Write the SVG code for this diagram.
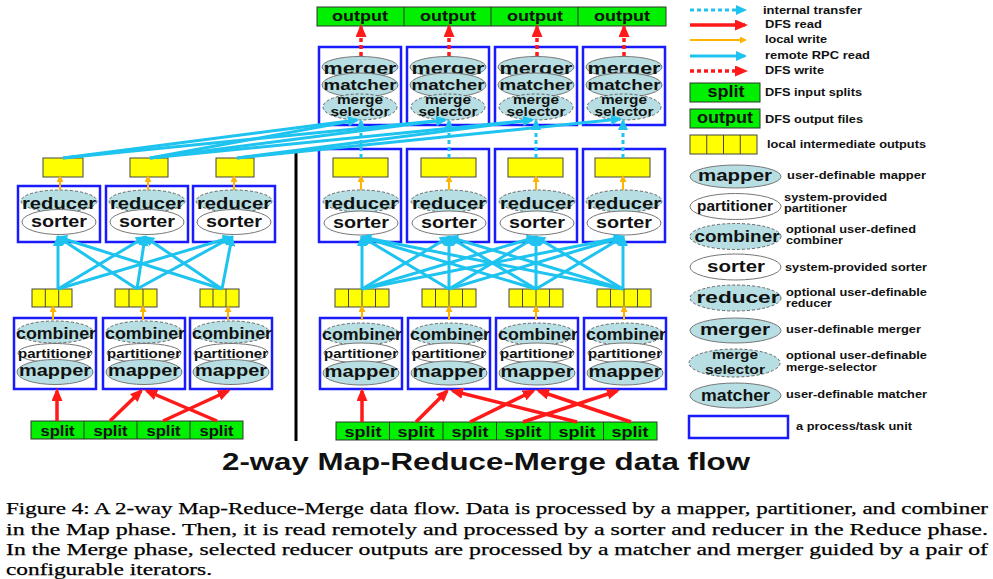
<svg xmlns="http://www.w3.org/2000/svg" width="993" height="579" viewBox="0 0 993 579">
<style>
.box{fill:#fff;stroke:#1a1aff;stroke-width:2.5}
.ell{fill:#b7dfe3;stroke:#777;stroke-width:1}
.dsh{fill:#b7dfe3;stroke:#666;stroke-width:1;stroke-dasharray:3 2}
.wht{fill:#fff;stroke:#777;stroke-width:1}
.grn{fill:#00f000;stroke:#333;stroke-width:1}
.yel{fill:#ffff00;stroke:#444;stroke-width:1}
.cl{stroke:#444;stroke-width:1}
.gl{stroke:#333;stroke-width:1}
text{font-family:"Liberation Sans",Arial,sans-serif;font-weight:bold;fill:#111}
.t16{font-size:16px;text-anchor:middle}
.t13{font-size:13px;text-anchor:middle}
.t15{font-size:15px;text-anchor:middle}
.mt{font-size:15px;text-anchor:middle}
.ms{font-size:12px;text-anchor:middle}
.lg{font-size:11px}
.rpc{stroke:#1ec3f0;stroke-width:3;fill:none}
.itr{stroke:#1ec3f0;stroke-width:3;stroke-dasharray:4 3;fill:none}
.red{stroke:#ff1a1a;stroke-width:3.5;fill:none}
.dfw{stroke:#ff1a1a;stroke-width:3.5;stroke-dasharray:4 3;fill:none}
.org{stroke:#ffb400;stroke-width:2;fill:none}
.title{font-weight:bold;font-size:24px;text-anchor:middle;fill:#111}
.cap{font-family:"Liberation Serif","Times New Roman",serif;font-weight:normal;font-size:17px;fill:#000;stroke:#000;stroke-width:0.25}
</style>
<defs>
<marker id="ac" markerUnits="userSpaceOnUse" markerWidth="12" markerHeight="10" refX="9" refY="5" orient="auto"><path d="M0,0 L11,5 L0,10 z" fill="#1ec3f0"/></marker>
<marker id="ar" markerUnits="userSpaceOnUse" markerWidth="13" markerHeight="11" refX="10" refY="5.5" orient="auto"><path d="M0,0 L13,5.5 L0,11 z" fill="#ff1a1a"/></marker>
<marker id="ao" markerUnits="userSpaceOnUse" markerWidth="8" markerHeight="8" refX="5" refY="3.5" orient="auto"><path d="M0,0 L7,3.5 L0,7 z" fill="#ffb400"/></marker>
</defs>

<g id="outputs">
<rect class="grn" x="317" y="7" width="349" height="19"/>
<line class="gl" x1="404" y1="7" x2="404" y2="26"/>
<line class="gl" x1="491" y1="7" x2="491" y2="26"/>
<line class="gl" x1="578" y1="7" x2="578" y2="26"/>
<text class="t15" x="360" y="21" textLength="56" lengthAdjust="spacingAndGlyphs">output</text>
<text class="t15" x="448" y="21" textLength="56" lengthAdjust="spacingAndGlyphs">output</text>
<text class="t15" x="535" y="21" textLength="56" lengthAdjust="spacingAndGlyphs">output</text>
<text class="t15" x="622" y="21" textLength="56" lengthAdjust="spacingAndGlyphs">output</text>
</g>

<g id="merge1">
<rect class="box" x="319" y="47" width="82" height="78"/>
<ellipse class="ell" cx="360" cy="67" rx="38" ry="10.5"/>
<text class="t16" x="360" y="74" textLength="73" lengthAdjust="spacingAndGlyphs">merger</text>
<ellipse class="ell" cx="360" cy="85" rx="38" ry="12"/>
<text class="mt" x="360" y="90" textLength="73" lengthAdjust="spacingAndGlyphs">matcher</text>
<ellipse class="dsh" cx="360" cy="107" rx="37" ry="13"/>
<text class="ms" x="360" y="103.5" textLength="46" lengthAdjust="spacingAndGlyphs">merge</text>
<text class="ms" x="360" y="116" textLength="59" lengthAdjust="spacingAndGlyphs">selector</text>
</g>
<g id="merge2">
<rect class="box" x="407" y="47" width="82" height="78"/>
<ellipse class="ell" cx="448" cy="67" rx="38" ry="10.5"/>
<text class="t16" x="448" y="74" textLength="73" lengthAdjust="spacingAndGlyphs">merger</text>
<ellipse class="ell" cx="448" cy="85" rx="38" ry="12"/>
<text class="mt" x="448" y="90" textLength="73" lengthAdjust="spacingAndGlyphs">matcher</text>
<ellipse class="dsh" cx="448" cy="107" rx="37" ry="13"/>
<text class="ms" x="448" y="103.5" textLength="46" lengthAdjust="spacingAndGlyphs">merge</text>
<text class="ms" x="448" y="116" textLength="59" lengthAdjust="spacingAndGlyphs">selector</text>
</g>
<g id="merge3">
<rect class="box" x="495" y="47" width="82" height="78"/>
<ellipse class="ell" cx="536" cy="67" rx="38" ry="10.5"/>
<text class="t16" x="536" y="74" textLength="73" lengthAdjust="spacingAndGlyphs">merger</text>
<ellipse class="ell" cx="536" cy="85" rx="38" ry="12"/>
<text class="mt" x="536" y="90" textLength="73" lengthAdjust="spacingAndGlyphs">matcher</text>
<ellipse class="dsh" cx="536" cy="107" rx="37" ry="13"/>
<text class="ms" x="536" y="103.5" textLength="46" lengthAdjust="spacingAndGlyphs">merge</text>
<text class="ms" x="536" y="116" textLength="59" lengthAdjust="spacingAndGlyphs">selector</text>
</g>
<g id="merge4">
<rect class="box" x="583" y="47" width="82" height="78"/>
<ellipse class="ell" cx="624" cy="67" rx="38" ry="10.5"/>
<text class="t16" x="624" y="74" textLength="73" lengthAdjust="spacingAndGlyphs">merger</text>
<ellipse class="ell" cx="624" cy="85" rx="38" ry="12"/>
<text class="mt" x="624" y="90" textLength="73" lengthAdjust="spacingAndGlyphs">matcher</text>
<ellipse class="dsh" cx="624" cy="107" rx="37" ry="13"/>
<text class="ms" x="624" y="103.5" textLength="46" lengthAdjust="spacingAndGlyphs">merge</text>
<text class="ms" x="624" y="116" textLength="59" lengthAdjust="spacingAndGlyphs">selector</text>
</g>

<g id="reduceR1">
<rect class="box" x="319" y="149" width="82" height="93"/>
<rect class="yel" x="333" y="158" width="55" height="19"/>
<ellipse class="dsh" cx="361" cy="201" rx="38" ry="11"/>
<text class="t16" x="361" y="209" textLength="74" lengthAdjust="spacingAndGlyphs">reducer</text>
<ellipse class="wht" cx="361" cy="223" rx="37" ry="12"/>
<text class="t16" x="361" y="228" textLength="56" lengthAdjust="spacingAndGlyphs">sorter</text>
</g>
<g id="reduceR2">
<rect class="box" x="407" y="149" width="82" height="93"/>
<rect class="yel" x="421" y="158" width="55" height="19"/>
<ellipse class="dsh" cx="449" cy="201" rx="38" ry="11"/>
<text class="t16" x="449" y="209" textLength="74" lengthAdjust="spacingAndGlyphs">reducer</text>
<ellipse class="wht" cx="449" cy="223" rx="37" ry="12"/>
<text class="t16" x="449" y="228" textLength="56" lengthAdjust="spacingAndGlyphs">sorter</text>
</g>
<g id="reduceR3">
<rect class="box" x="495" y="149" width="82" height="93"/>
<rect class="yel" x="508" y="158" width="55" height="19"/>
<ellipse class="dsh" cx="537" cy="201" rx="38" ry="11"/>
<text class="t16" x="537" y="209" textLength="74" lengthAdjust="spacingAndGlyphs">reducer</text>
<ellipse class="wht" cx="537" cy="223" rx="37" ry="12"/>
<text class="t16" x="537" y="228" textLength="56" lengthAdjust="spacingAndGlyphs">sorter</text>
</g>
<g id="reduceR4">
<rect class="box" x="583" y="149" width="82" height="93"/>
<rect class="yel" x="595" y="158" width="55" height="19"/>
<ellipse class="dsh" cx="624" cy="201" rx="38" ry="11"/>
<text class="t16" x="624" y="209" textLength="74" lengthAdjust="spacingAndGlyphs">reducer</text>
<ellipse class="wht" cx="624" cy="223" rx="37" ry="12"/>
<text class="t16" x="624" y="228" textLength="56" lengthAdjust="spacingAndGlyphs">sorter</text>
</g>

<g id="outL1"><rect class="yel" x="43" y="158" width="40" height="19"/></g>
<g id="outL2"><rect class="yel" x="130" y="158" width="38" height="19"/></g>
<g id="outL3"><rect class="yel" x="216" y="158" width="38" height="19"/></g>
<g id="reduceL1">
<rect class="box" x="18" y="186" width="82" height="56"/>
<ellipse class="dsh" cx="59" cy="201" rx="38" ry="11"/>
<text class="t16" x="59" y="209" textLength="74" lengthAdjust="spacingAndGlyphs">reducer</text>
<ellipse class="wht" cx="59" cy="222" rx="37" ry="12.5"/>
<text class="t16" x="59" y="227" textLength="56" lengthAdjust="spacingAndGlyphs">sorter</text>
</g>
<g id="reduceL2">
<rect class="box" x="106" y="186" width="82" height="56"/>
<ellipse class="dsh" cx="147" cy="201" rx="38" ry="11"/>
<text class="t16" x="147" y="209" textLength="74" lengthAdjust="spacingAndGlyphs">reducer</text>
<ellipse class="wht" cx="147" cy="222" rx="37" ry="12.5"/>
<text class="t16" x="147" y="227" textLength="56" lengthAdjust="spacingAndGlyphs">sorter</text>
</g>
<g id="reduceL3">
<rect class="box" x="193" y="186" width="82" height="56"/>
<ellipse class="dsh" cx="234" cy="201" rx="38" ry="11"/>
<text class="t16" x="234" y="209" textLength="74" lengthAdjust="spacingAndGlyphs">reducer</text>
<ellipse class="wht" cx="234" cy="222" rx="37" ry="12.5"/>
<text class="t16" x="234" y="227" textLength="56" lengthAdjust="spacingAndGlyphs">sorter</text>
</g>

<g id="imL1"><rect class="yel" x="32" y="289" width="40" height="18"/><line class="cl" x1="45.3" y1="289" x2="45.3" y2="307"/><line class="cl" x1="58.7" y1="289" x2="58.7" y2="307"/></g>
<g id="imL2"><rect class="yel" x="115" y="289" width="42" height="18"/><line class="cl" x1="129" y1="289" x2="129" y2="307"/><line class="cl" x1="143" y1="289" x2="143" y2="307"/></g>
<g id="imL3"><rect class="yel" x="200" y="289" width="39" height="18"/><line class="cl" x1="213" y1="289" x2="213" y2="307"/><line class="cl" x1="226" y1="289" x2="226" y2="307"/></g>
<g id="imR1"><rect class="yel" x="335" y="289" width="54" height="18"/><line class="cl" x1="348.5" y1="289" x2="348.5" y2="307"/><line class="cl" x1="362" y1="289" x2="362" y2="307"/><line class="cl" x1="375.5" y1="289" x2="375.5" y2="307"/></g>
<g id="imR2"><rect class="yel" x="422" y="289" width="54" height="18"/><line class="cl" x1="435.5" y1="289" x2="435.5" y2="307"/><line class="cl" x1="449" y1="289" x2="449" y2="307"/><line class="cl" x1="462.5" y1="289" x2="462.5" y2="307"/></g>
<g id="imR3"><rect class="yel" x="509" y="289" width="54" height="18"/><line class="cl" x1="522.5" y1="289" x2="522.5" y2="307"/><line class="cl" x1="536" y1="289" x2="536" y2="307"/><line class="cl" x1="549.5" y1="289" x2="549.5" y2="307"/></g>
<g id="imR4"><rect class="yel" x="597" y="289" width="54" height="18"/><line class="cl" x1="610.5" y1="289" x2="610.5" y2="307"/><line class="cl" x1="624" y1="289" x2="624" y2="307"/><line class="cl" x1="637.5" y1="289" x2="637.5" y2="307"/></g>

<g id="mapL1">
<rect class="box" x="14" y="318" width="82" height="71"/>
<ellipse class="dsh" cx="55" cy="332" rx="38" ry="11"/>
<text class="t16" x="56" y="339" textLength="80" lengthAdjust="spacingAndGlyphs">combiner</text>
<ellipse class="wht" cx="55" cy="353" rx="37" ry="9.5"/>
<text class="t13" x="55" y="358" textLength="74" lengthAdjust="spacingAndGlyphs">partitioner</text>
<ellipse class="ell" cx="55" cy="372" rx="38" ry="12.5"/>
<text class="t16" x="55" y="376" textLength="72" lengthAdjust="spacingAndGlyphs">mapper</text>
</g>
<g id="mapL2">
<rect class="box" x="103" y="318" width="82" height="71"/>
<ellipse class="dsh" cx="144" cy="332" rx="38" ry="11"/>
<text class="t16" x="145" y="339" textLength="80" lengthAdjust="spacingAndGlyphs">combiner</text>
<ellipse class="wht" cx="144" cy="353" rx="37" ry="9.5"/>
<text class="t13" x="144" y="358" textLength="74" lengthAdjust="spacingAndGlyphs">partitioner</text>
<ellipse class="ell" cx="144" cy="372" rx="38" ry="12.5"/>
<text class="t16" x="144" y="376" textLength="72" lengthAdjust="spacingAndGlyphs">mapper</text>
</g>
<g id="mapL3">
<rect class="box" x="190" y="318" width="82" height="71"/>
<ellipse class="dsh" cx="231" cy="332" rx="38" ry="11"/>
<text class="t16" x="232" y="339" textLength="80" lengthAdjust="spacingAndGlyphs">combiner</text>
<ellipse class="wht" cx="231" cy="353" rx="37" ry="9.5"/>
<text class="t13" x="231" y="358" textLength="74" lengthAdjust="spacingAndGlyphs">partitioner</text>
<ellipse class="ell" cx="231" cy="372" rx="38" ry="12.5"/>
<text class="t16" x="231" y="376" textLength="72" lengthAdjust="spacingAndGlyphs">mapper</text>
</g>

<g id="mapR1">
<rect class="box" x="320" y="318" width="82" height="71"/>
<ellipse class="dsh" cx="361" cy="334" rx="38" ry="11"/>
<text class="t16" x="362" y="340" textLength="80" lengthAdjust="spacingAndGlyphs">combiner</text>
<ellipse class="wht" cx="361" cy="353" rx="37" ry="10"/>
<text class="t13" x="361" y="358" textLength="74" lengthAdjust="spacingAndGlyphs">partitioner</text>
<ellipse class="ell" cx="361" cy="373" rx="38" ry="12"/>
<text class="t16" x="361" y="377" textLength="73" lengthAdjust="spacingAndGlyphs">mapper</text>
</g>
<g id="mapR2">
<rect class="box" x="408" y="318" width="82" height="71"/>
<ellipse class="dsh" cx="449" cy="334" rx="38" ry="11"/>
<text class="t16" x="450" y="340" textLength="80" lengthAdjust="spacingAndGlyphs">combiner</text>
<ellipse class="wht" cx="449" cy="353" rx="37" ry="10"/>
<text class="t13" x="449" y="358" textLength="74" lengthAdjust="spacingAndGlyphs">partitioner</text>
<ellipse class="ell" cx="449" cy="373" rx="38" ry="12"/>
<text class="t16" x="449" y="377" textLength="73" lengthAdjust="spacingAndGlyphs">mapper</text>
</g>
<g id="mapR3">
<rect class="box" x="496" y="318" width="82" height="71"/>
<ellipse class="dsh" cx="537" cy="334" rx="38" ry="11"/>
<text class="t16" x="538" y="340" textLength="80" lengthAdjust="spacingAndGlyphs">combiner</text>
<ellipse class="wht" cx="537" cy="353" rx="37" ry="10"/>
<text class="t13" x="537" y="358" textLength="74" lengthAdjust="spacingAndGlyphs">partitioner</text>
<ellipse class="ell" cx="537" cy="373" rx="38" ry="12"/>
<text class="t16" x="537" y="377" textLength="73" lengthAdjust="spacingAndGlyphs">mapper</text>
</g>
<g id="mapR4">
<rect class="box" x="584" y="318" width="82" height="71"/>
<ellipse class="dsh" cx="625" cy="334" rx="38" ry="11"/>
<text class="t16" x="626" y="340" textLength="80" lengthAdjust="spacingAndGlyphs">combiner</text>
<ellipse class="wht" cx="625" cy="353" rx="37" ry="10"/>
<text class="t13" x="625" y="358" textLength="74" lengthAdjust="spacingAndGlyphs">partitioner</text>
<ellipse class="ell" cx="625" cy="373" rx="38" ry="12"/>
<text class="t16" x="625" y="377" textLength="73" lengthAdjust="spacingAndGlyphs">mapper</text>
</g>

<g id="splitsL">
<rect class="grn" x="31" y="421" width="212" height="18"/>
<line class="gl" x1="84" y1="421" x2="84" y2="439"/>
<line class="gl" x1="137" y1="421" x2="137" y2="439"/>
<line class="gl" x1="190" y1="421" x2="190" y2="439"/>
<text class="t15" x="57.5" y="436" textLength="34" lengthAdjust="spacingAndGlyphs">split</text>
<text class="t15" x="110.5" y="436" textLength="34" lengthAdjust="spacingAndGlyphs">split</text>
<text class="t15" x="163.5" y="436" textLength="34" lengthAdjust="spacingAndGlyphs">split</text>
<text class="t15" x="216.5" y="436" textLength="34" lengthAdjust="spacingAndGlyphs">split</text>
</g>
<g id="splitsR">
<rect class="grn" x="336" y="422" width="321" height="18"/>
<line class="gl" x1="389.5" y1="422" x2="389.5" y2="440"/>
<line class="gl" x1="443" y1="422" x2="443" y2="440"/>
<line class="gl" x1="496.5" y1="422" x2="496.5" y2="440"/>
<line class="gl" x1="550" y1="422" x2="550" y2="440"/>
<line class="gl" x1="603.5" y1="422" x2="603.5" y2="440"/>
<text class="t15" x="363" y="437" textLength="37" lengthAdjust="spacingAndGlyphs">split</text>
<text class="t15" x="416" y="437" textLength="37" lengthAdjust="spacingAndGlyphs">split</text>
<text class="t15" x="470" y="437" textLength="37" lengthAdjust="spacingAndGlyphs">split</text>
<text class="t15" x="523" y="437" textLength="37" lengthAdjust="spacingAndGlyphs">split</text>
<text class="t15" x="577" y="437" textLength="37" lengthAdjust="spacingAndGlyphs">split</text>
<text class="t15" x="630" y="437" textLength="37" lengthAdjust="spacingAndGlyphs">split</text>
</g>

<line id="divider" x1="296" y1="153" x2="296" y2="441" stroke="#000" stroke-width="3"/>

<g id="connectors">
<line class="dfw" x1="361" y1="56" x2="361" y2="27" marker-end="url(#ar)"/>
<line class="dfw" x1="449" y1="56" x2="449" y2="27" marker-end="url(#ar)"/>
<line class="dfw" x1="537" y1="56" x2="537" y2="27" marker-end="url(#ar)"/>
<line class="dfw" x1="624" y1="56" x2="624" y2="27" marker-end="url(#ar)"/>
<line class="itr" x1="361" y1="158" x2="361" y2="121" marker-end="url(#ac)"/>
<line class="itr" x1="449" y1="158" x2="449" y2="121" marker-end="url(#ac)"/>
<line class="itr" x1="536" y1="158" x2="536" y2="121" marker-end="url(#ac)"/>
<line class="itr" x1="623" y1="158" x2="623" y2="121" marker-end="url(#ac)"/>
<line class="rpc" x1="63" y1="158" x2="357" y2="120" marker-end="url(#ac)"/>
<line class="rpc" x1="150" y1="158" x2="357" y2="120" marker-end="url(#ac)"/>
<line class="rpc" x1="63" y1="158" x2="445" y2="120" marker-end="url(#ac)"/>
<line class="rpc" x1="150" y1="158" x2="445" y2="120" marker-end="url(#ac)"/>
<line class="rpc" x1="150" y1="158" x2="532" y2="120" marker-end="url(#ac)"/>
<line class="rpc" x1="237" y1="158" x2="532" y2="120" marker-end="url(#ac)"/>
<line class="rpc" x1="237" y1="158" x2="620" y2="119" marker-end="url(#ac)"/>
<line class="org" x1="60" y1="190" x2="60" y2="177" marker-end="url(#ao)"/>
<line class="org" x1="148" y1="190" x2="148" y2="177" marker-end="url(#ao)"/>
<line class="org" x1="234" y1="190" x2="234" y2="177" marker-end="url(#ao)"/>
<line class="org" x1="361" y1="190" x2="361" y2="177" marker-end="url(#ao)"/>
<line class="org" x1="449" y1="190" x2="449" y2="177" marker-end="url(#ao)"/>
<line class="org" x1="536" y1="190" x2="536" y2="177" marker-end="url(#ao)"/>
<line class="org" x1="623" y1="190" x2="623" y2="177" marker-end="url(#ao)"/>
<line class="org" x1="53" y1="320" x2="53" y2="307" marker-end="url(#ao)"/>
<line class="org" x1="143" y1="320" x2="143" y2="307" marker-end="url(#ao)"/>
<line class="org" x1="228" y1="320" x2="228" y2="307" marker-end="url(#ao)"/>
<line class="org" x1="362" y1="320" x2="362" y2="307" marker-end="url(#ao)"/>
<line class="org" x1="449" y1="320" x2="449" y2="307" marker-end="url(#ao)"/>
<line class="org" x1="536" y1="320" x2="536" y2="307" marker-end="url(#ao)"/>
<line class="org" x1="624" y1="320" x2="624" y2="307" marker-end="url(#ao)"/>
<line class="rpc" x1="58" y1="289" x2="58" y2="237" marker-end="url(#ac)"/>
<line class="rpc" x1="58" y1="289" x2="145" y2="237" marker-end="url(#ac)"/>
<line class="rpc" x1="58" y1="289" x2="232" y2="237" marker-end="url(#ac)"/>
<line class="rpc" x1="137" y1="289" x2="58" y2="237" marker-end="url(#ac)"/>
<line class="rpc" x1="137" y1="289" x2="145" y2="237" marker-end="url(#ac)"/>
<line class="rpc" x1="137" y1="289" x2="232" y2="237" marker-end="url(#ac)"/>
<line class="rpc" x1="222" y1="289" x2="58" y2="237" marker-end="url(#ac)"/>
<line class="rpc" x1="222" y1="289" x2="145" y2="237" marker-end="url(#ac)"/>
<line class="rpc" x1="222" y1="289" x2="232" y2="237" marker-end="url(#ac)"/>
<line class="rpc" x1="362" y1="289" x2="362" y2="237" marker-end="url(#ac)"/>
<line class="rpc" x1="362" y1="289" x2="449" y2="237" marker-end="url(#ac)"/>
<line class="rpc" x1="362" y1="289" x2="536" y2="237" marker-end="url(#ac)"/>
<line class="rpc" x1="362" y1="289" x2="623" y2="237" marker-end="url(#ac)"/>
<line class="rpc" x1="449" y1="289" x2="362" y2="237" marker-end="url(#ac)"/>
<line class="rpc" x1="449" y1="289" x2="449" y2="237" marker-end="url(#ac)"/>
<line class="rpc" x1="449" y1="289" x2="536" y2="237" marker-end="url(#ac)"/>
<line class="rpc" x1="449" y1="289" x2="623" y2="237" marker-end="url(#ac)"/>
<line class="rpc" x1="536" y1="289" x2="362" y2="237" marker-end="url(#ac)"/>
<line class="rpc" x1="536" y1="289" x2="449" y2="237" marker-end="url(#ac)"/>
<line class="rpc" x1="536" y1="289" x2="536" y2="237" marker-end="url(#ac)"/>
<line class="rpc" x1="536" y1="289" x2="623" y2="237" marker-end="url(#ac)"/>
<line class="rpc" x1="623" y1="289" x2="362" y2="237" marker-end="url(#ac)"/>
<line class="rpc" x1="623" y1="289" x2="449" y2="237" marker-end="url(#ac)"/>
<line class="rpc" x1="623" y1="289" x2="536" y2="237" marker-end="url(#ac)"/>
<line class="rpc" x1="623" y1="289" x2="623" y2="237" marker-end="url(#ac)"/>
<line class="red" x1="57" y1="421" x2="57" y2="391" marker-end="url(#ar)"/>
<line class="red" x1="110" y1="421" x2="141" y2="391" marker-end="url(#ar)"/>
<line class="red" x1="217" y1="421" x2="147" y2="391" marker-end="url(#ar)"/>
<line class="red" x1="163" y1="421" x2="228" y2="391" marker-end="url(#ar)"/>
<line class="red" x1="362" y1="422" x2="362" y2="391" marker-end="url(#ar)"/>
<line class="red" x1="416" y1="422" x2="447" y2="391" marker-end="url(#ar)"/>
<line class="red" x1="470" y1="422" x2="533" y2="391" marker-end="url(#ar)"/>
<line class="red" x1="523" y1="422" x2="617" y2="391" marker-end="url(#ar)"/>
<line class="red" x1="577" y1="422" x2="453" y2="391" marker-end="url(#ar)"/>
<line class="red" x1="631" y1="422" x2="539" y2="391" marker-end="url(#ar)"/>
</g>

<g id="legend">
<line class="itr" x1="690" y1="10" x2="745" y2="10" marker-end="url(#ac)"/>
<text class="lg" x="763" y="14" textLength="99" lengthAdjust="spacingAndGlyphs">internal transfer</text>
<line class="red" x1="690" y1="25" x2="745" y2="25" marker-end="url(#ar)"/>
<text class="lg" x="765" y="28" textLength="57" lengthAdjust="spacingAndGlyphs">DFS read</text>
<line class="org" x1="690" y1="40" x2="745" y2="40" marker-end="url(#ao)"/>
<text class="lg" x="765" y="43" textLength="62" lengthAdjust="spacingAndGlyphs">local write</text>
<line class="rpc" x1="690" y1="56" x2="745" y2="56" marker-end="url(#ac)"/>
<text class="lg" x="765" y="59" textLength="105" lengthAdjust="spacingAndGlyphs">remote RPC read</text>
<line class="dfw" x1="690" y1="71" x2="745" y2="71" marker-end="url(#ar)"/>
<text class="lg" x="765" y="74" textLength="59" lengthAdjust="spacingAndGlyphs">DFS write</text>
<rect class="grn" x="690" y="83" width="70" height="19"/>
<text class="t16" x="726" y="97" textLength="37" lengthAdjust="spacingAndGlyphs">split</text>
<text class="lg" x="765" y="96" textLength="97" lengthAdjust="spacingAndGlyphs">DFS input splits</text>
<rect class="grn" x="690" y="109" width="70" height="19"/>
<text class="t16" x="725" y="123" textLength="56" lengthAdjust="spacingAndGlyphs">output</text>
<text class="lg" x="765" y="123" textLength="98" lengthAdjust="spacingAndGlyphs">DFS output files</text>
<rect class="yel" x="690" y="135" width="67" height="19"/>
<line class="cl" x1="706.75" y1="135" x2="706.75" y2="154"/>
<line class="cl" x1="723.5" y1="135" x2="723.5" y2="154"/>
<line class="cl" x1="740.25" y1="135" x2="740.25" y2="154"/>
<text class="lg" x="767" y="148" textLength="159" lengthAdjust="spacingAndGlyphs">local intermediate outputs</text>

<ellipse class="ell" cx="735.5" cy="176.5" rx="45.5" ry="11.5"/>
<text class="t16" x="735" y="181" font-size="17" textLength="74" lengthAdjust="spacingAndGlyphs">mapper</text>
<text class="lg" x="787" y="179" textLength="139" lengthAdjust="spacingAndGlyphs">user-definable mapper</text>

<ellipse class="wht" cx="735.5" cy="206.5" rx="45.5" ry="13"/>
<text class="t15" x="735" y="211" textLength="76" lengthAdjust="spacingAndGlyphs">partitioner</text>
<text class="lg" x="784" y="201" textLength="103" lengthAdjust="spacingAndGlyphs">system-provided</text>
<text class="lg" x="784" y="212" textLength="63" lengthAdjust="spacingAndGlyphs">partitioner</text>

<ellipse class="dsh" cx="735.5" cy="236.5" rx="45.5" ry="13"/>
<text class="t16" x="737" y="242" font-size="17" textLength="85" lengthAdjust="spacingAndGlyphs">combiner</text>
<text class="lg" x="786" y="233" textLength="130" lengthAdjust="spacingAndGlyphs">optional user-defined</text>
<text class="lg" x="786" y="244" textLength="57" lengthAdjust="spacingAndGlyphs">combiner</text>

<ellipse class="wht" cx="735.5" cy="267" rx="45.5" ry="13"/>
<text class="t16" x="736" y="272" font-size="17" textLength="58" lengthAdjust="spacingAndGlyphs">sorter</text>
<text class="lg" x="785" y="271" textLength="142" lengthAdjust="spacingAndGlyphs">system-provided sorter</text>

<ellipse class="dsh" cx="735.5" cy="298" rx="45.5" ry="13"/>
<text class="t16" x="738" y="303" font-size="17" textLength="83" lengthAdjust="spacingAndGlyphs">reducer</text>
<text class="lg" x="786" y="296" textLength="141" lengthAdjust="spacingAndGlyphs">optional user-definable</text>
<text class="lg" x="786" y="307" textLength="46" lengthAdjust="spacingAndGlyphs">reducer</text>

<ellipse class="ell" cx="735.5" cy="330.5" rx="45.5" ry="12.5"/>
<text class="t16" x="735" y="335" font-size="17" textLength="70" lengthAdjust="spacingAndGlyphs">merger</text>
<text class="lg" x="786" y="333" textLength="135" lengthAdjust="spacingAndGlyphs">user-definable merger</text>

<ellipse class="dsh" cx="734.5" cy="363" rx="45.5" ry="14"/>
<text class="t13" x="735" y="358.5" textLength="46" lengthAdjust="spacingAndGlyphs">merge</text>
<text class="t13" x="735" y="373.5" textLength="60" lengthAdjust="spacingAndGlyphs">selector</text>
<text class="lg" x="786" y="359" textLength="141" lengthAdjust="spacingAndGlyphs">optional user-definable</text>
<text class="lg" x="786" y="371" textLength="91" lengthAdjust="spacingAndGlyphs">merge-selector</text>

<ellipse class="ell" cx="735.5" cy="395.5" rx="45.5" ry="12.5"/>
<text class="t16" x="735.5" y="401" font-size="17" textLength="69" lengthAdjust="spacingAndGlyphs">matcher</text>
<text class="lg" x="786" y="398" textLength="141" lengthAdjust="spacingAndGlyphs">user-definable matcher</text>

<rect class="box" x="689" y="416" width="99" height="22"/>
<text class="lg" x="796" y="430" textLength="116" lengthAdjust="spacingAndGlyphs">a process/task unit</text>
</g>

<text class="title" x="486" y="470" textLength="528" lengthAdjust="spacingAndGlyphs">2-way Map-Reduce-Merge data flow</text>
<text class="cap" x="6" y="514" textLength="982" lengthAdjust="spacingAndGlyphs">Figure 4: A 2-way Map-Reduce-Merge data flow. Data is processed by a mapper, partitioner, and combiner</text>
<text class="cap" x="6" y="535" textLength="982" lengthAdjust="spacingAndGlyphs">in the Map phase. Then, it is read remotely and processed by a sorter and reducer in the Reduce phase.</text>
<text class="cap" x="6" y="555" textLength="982" lengthAdjust="spacingAndGlyphs">In the Merge phase, selected reducer outputs are processed by a matcher and merger guided by a pair of</text>
<text class="cap" x="6" y="575" textLength="206" lengthAdjust="spacingAndGlyphs">configurable iterators.</text>
</svg>
